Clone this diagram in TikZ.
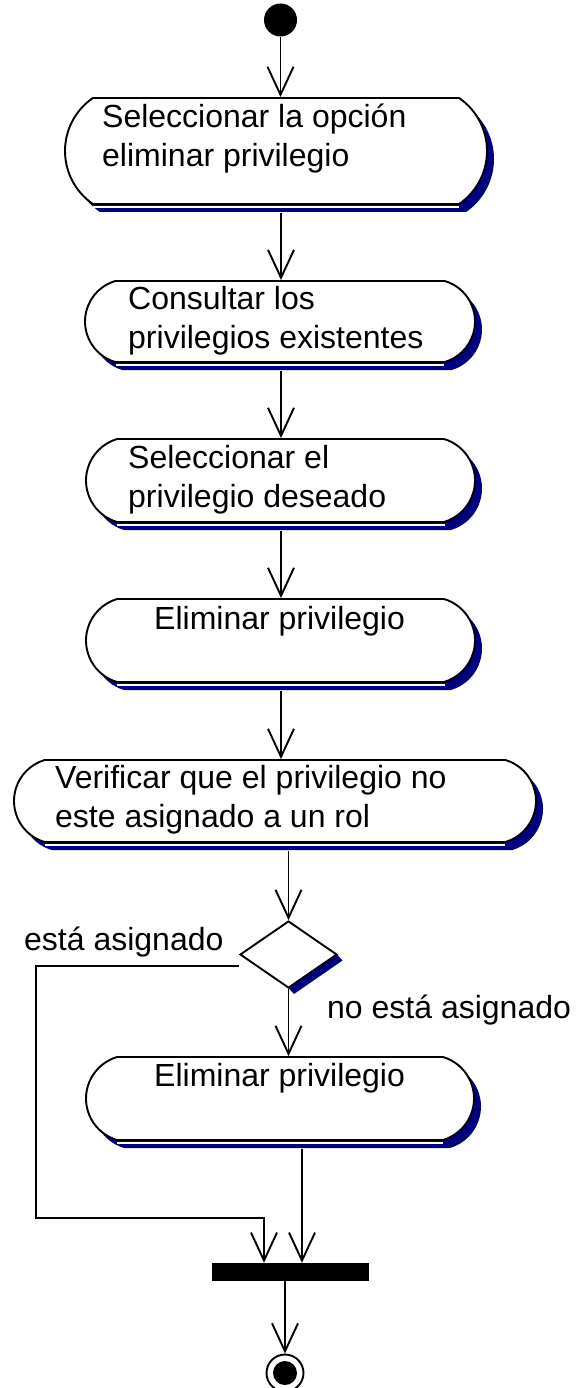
\documentclass[tikz,border=0pt]{standalone}
\usepackage{fontspec}
\setmainfont{Liberation Sans}
\usetikzlibrary{shapes.misc,shapes.geometric,shadows,arrows.meta,calc}
\definecolor{umlnavy}{RGB}{0,0,128}
\newcommand\twol[2]{\vtop{\hbox{#1}\hbox{#2}}}
\begin{document}
\begin{tikzpicture}[x=1pt,y=1pt,
  act/.style={rounded rectangle, rounded rectangle arc length=147, draw, fill=white,
    line width=1.9pt, inner sep=0pt,
    drop shadow={shadow xshift=7pt, shadow yshift=-8pt, fill=umlnavy, opacity=1, draw=none}},
  txt/.style={anchor=base west, inner sep=0pt, font=\fontsize{32}{39}\selectfont},
  flow/.style={line width=1.9pt, -{Straight Barb[length=28pt, width=26pt]}},
  gapline/.style={white, line width=2pt}]
\useasboundingbox (0,0) rectangle (575,-1388);

% start
\node[circle, fill=black, minimum size=33pt, inner sep=0pt] (start) at (280.5,-20) {};

% activity states
\node[act, rounded rectangle arc length=111, minimum width=422pt, minimum height=106pt] (b1) at (276,-151) {};
\node[act, minimum width=390pt, minimum height=81pt] (b2) at (280,-321.5) {};
\node[act, minimum width=389pt, minimum height=83pt] (b3) at (280.5,-480.5) {};
\node[act, minimum width=389pt, minimum height=83pt] (b4) at (280.5,-640.5) {};
\node[act, minimum width=522pt, minimum height=82pt] (b5) at (275,-801) {};
\node[act, minimum width=388pt, minimum height=83pt] (b6) at (280,-1098.5) {};

% double bottom lines
\draw[gapline] ($(b1.south)+(-183,-2.3)$) -- ($(b1.south)+(183,-2.3)$);
\draw[gapline] ($(b2.south)+(-164,-2.3)$) -- ($(b2.south)+(164,-2.3)$);
\draw[gapline] ($(b3.south)+(-164,-2.3)$) -- ($(b3.south)+(164,-2.3)$);
\draw[gapline] ($(b4.south)+(-164,-2.3)$) -- ($(b4.south)+(164,-2.3)$);
\draw[gapline] ($(b5.south)+(-230,-2.3)$) -- ($(b5.south)+(230,-2.3)$);
\draw[gapline] ($(b6.south)+(-163,-2.3)$) -- ($(b6.south)+(163,-2.3)$);

% texts
\node[txt] (t1) at (102,-128) {\twol{Seleccionar la opción}{eliminar privilegio}};
\node[txt] (t2) at (128,-309) {\twol{Consultar los}{privilegios existentes}};
\node[txt] (t3) at (128,-468) {\twol{Seleccionar el}{privilegio deseado}};
\node[txt] (t4) at (154,-629) {Eliminar privilegio};
\node[txt] (t5) at (55,-788) {\twol{Verificar que el privilegio no}{este asignado a un rol}};
\node[txt] (t6) at (154,-1086) {Eliminar privilegio};
\node[txt] (l1) at (24,-950) {está asignado};
\node[txt] (l2) at (327,-1018) {no está asignado};

% decision (shadow band along lower-right edge)
\fill[umlnavy] (337,-954.5) -- (288.5,-988) -- (294,-994) -- (342.5,-960.5) -- cycle;
\node[diamond, draw, fill=white, line width=1.9pt, minimum width=97pt, minimum height=67pt, inner sep=0pt] (dia) at (288.5,-954.5) {};

% synchronisation bar
\node[rectangle, fill=black, minimum width=157pt, minimum height=18pt, inner sep=0pt] (bar) at (290.5,-1272) {};

% end
\node[circle, draw, line width=1.9pt, minimum size=37pt, inner sep=0pt,
  path picture={\fill[black] (path picture bounding box.center) circle (12pt);}] (end) at (285,-1373) {};

% connectors
\coordinate (c1) at (36,-966);
\coordinate (c2) at (36,-1218);
\draw[flow] (start.south) -- ($(b1.north)+(4.5,0)$);
\draw[flow] ($(b1.south)+(5,-8)$) -- ($(b2.north)+(1,0)$);
\draw[flow] ($(b2.south)+(1,-8)$) -- ($(b3.north)+(0.5,0)$);
\draw[flow] ($(b3.south)+(0.5,-8)$) -- ($(b4.north)+(0.5,0)$);
\draw[flow] ($(b4.south)+(0.5,-8)$) -- ($(b5.north)+(6,0)$);
\draw[flow] ($(b5.south)+(13.5,-8)$) -- (dia.north);
\draw[flow] (dia.south) -- ($(b6.north)+(8.5,0)$);
\draw[flow] ($(dia.west)+(0,-11.5)$) -- (c1) -- (c2) -| ($(bar.north)+(-26.5,0)$);
\draw[flow] ($(b6.south)+(22,-8)$) -- ($(bar.north)+(11.5,0)$);
\draw[flow] ($(bar.south)+(-5.5,0)$) -- (end.north);
\end{tikzpicture}
\end{document}
